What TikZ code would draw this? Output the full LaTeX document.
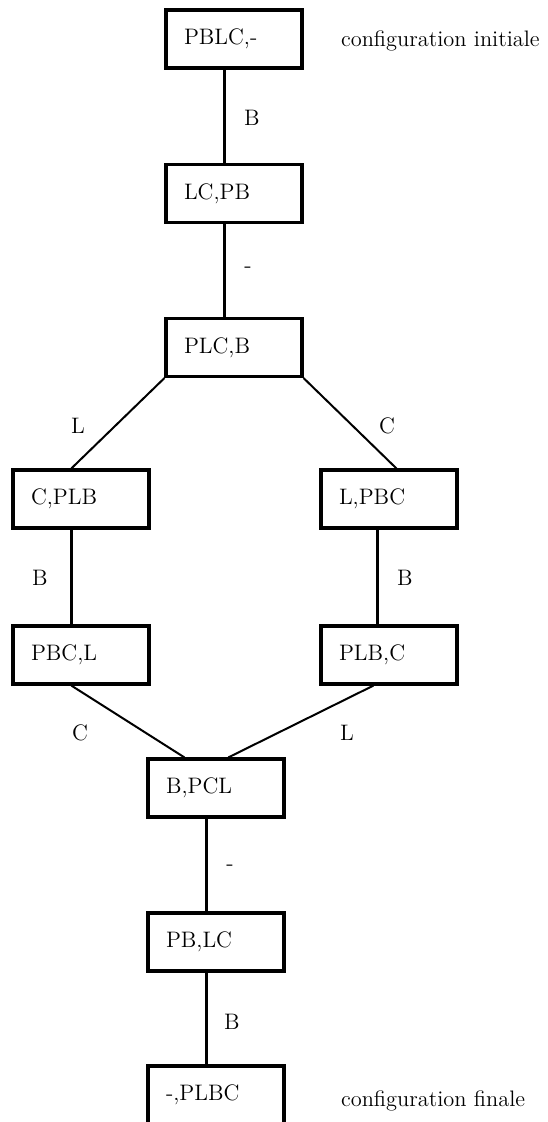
\documentclass[tikz,border=0pt]{standalone}
\begin{document}
\begin{tikzpicture}[x=0.5pt,y=-0.5pt,font=\fontsize{11.2}{13}\selectfont,
  etat/.style={draw=black,line width=1.6pt,minimum height=29pt,inner xsep=9pt,text width=50pt,align=left},
  vert/.style={line width=1.6pt},
  diag/.style={line width=1pt},
  coup/.style={inner sep=0pt}]
\useasboundingbox (0,0) rectangle (547,1122);
\clip (0,0) rectangle (547,1122);
\foreach \nom/\x/\y/\conf in {b1/234/39/{PBLC,-},b2/234/193.5/{LC,PB},b3/234/347.5/{PLC,B},
  b4/81/499/{C,PLB},b5/389/499/{L,PBC},b6/81/655/{PBC,L},b7/389/655/{PLB,C},
  b8/216/788/{B,PCL},b9/216/942/{PB,LC},b10/216/1095/{-,PLBC}}
  \node[etat] (\nom) at (\x,\y) {\conf};
\foreach \nom/\x/\y/\coup in {m1/252/118/B,m2/248/270/-,m3/78/426/L,m4/387/426/C,m5/40/578/B,
  m6/405/578/B,m7/80/733/C,m8/347/733/L,m9/230/868/-,m10/232/1022/B}
  \node[coup] (\nom) at (\x,\y) {\coup};
\node[anchor=west] (ini) at (334,41) {configuration initiale};
\node[anchor=west] (fin) at (334,1101) {configuration finale};
\draw[vert] ([xshift=30pt]b1.south west) -- ([xshift=30pt]b2.north west);
\draw[vert] ([xshift=30pt]b2.south west) -- ([xshift=30pt]b3.north west);
\draw[diag] (b3.south west) -- ([xshift=30pt]b4.north west);
\draw[diag] (b3.south east) -- ([xshift=38.5pt]b5.north west);
\draw[vert] ([xshift=30pt]b4.south west) -- ([xshift=30pt]b6.north west);
\draw[vert] ([xshift=29pt]b5.south west) -- ([xshift=29pt]b7.north west);
\draw[diag] ([xshift=30pt]b6.south west) -- ([xshift=19pt]b8.north west);
\draw[diag] ([xshift=27pt]b7.south west) -- ([xshift=41pt]b8.north west);
\draw[vert] ([xshift=30pt]b8.south west) -- ([xshift=30pt]b9.north west);
\draw[vert] ([xshift=30pt]b9.south west) -- ([xshift=30pt]b10.north west);
\end{tikzpicture}
\end{document}
